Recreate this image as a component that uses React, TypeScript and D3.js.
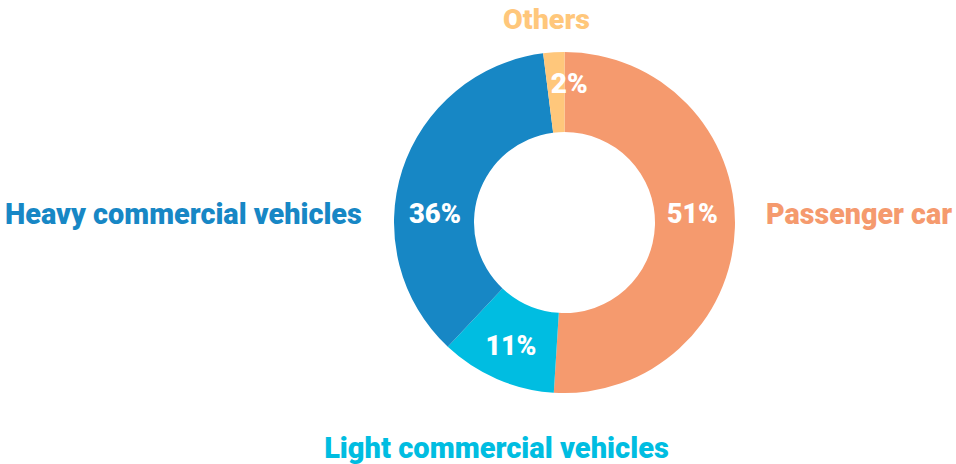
import React, { useLayoutEffect, useRef, useState } from "react";
import * as d3 from "d3";

const categories = ["Passenger car", "Light commercial vehicles", "Heavy commercial vehicles", "Others"];
const values = [51, 11, 36, 2];
const colors = ["#F59A6E", "#00BDE1", "#1787C5", "#FFC77B"];

const W = 956;
const H = 464;
const CX = 564.5;
const CY = 222.5;
const R_OUT = 170.5;
const R_IN = 90.5;
const FONT = "Roboto, 'Noto Sans', sans-serif";

export default function App() {
  const pie = d3.pie<number>().sort(null).value((d) => d)(values);
  const arc = d3.arc<d3.PieArcDatum<number>>().innerRadius(R_IN).outerRadius(R_OUT);
  const labelArc = d3.arc<d3.PieArcDatum<number>>().innerRadius(130).outerRadius(130);

  // percent label placement per slice
  const pctPos = pie.map((p, i) => {
    const [x, y] = labelArc.centroid(p);
    if (i === 0) return [128, 0];
    if (i === 2) return [-129.5, 0];
    if (i === 3) return [x + 13, y];
    return [x - 2, y + 13.5];
  });
  const pctLen = [51, 51, 52, 37];

  // category label anchors (anchor x, baseline y, anchor)
  const catPos: [number, number, string][] = [
    [W - 4, CY + 1.5, "end"],
    [CX - 68, H - 6.5, "middle"],
    [5, CY + 1.5, "start"],
    [CX - 18, 29.3, "middle"],
  ];
  const catSize = [30, 29, 30, 28];
  const catLen = [186, 345, 357, 87];

  const catRefs = useRef<(SVGTextElement | null)[]>([]);
  const pctRefs = useRef<(SVGTextElement | null)[]>([]);
  const [catScale, setCatScale] = useState<number[]>([1, 1, 1, 1]);
  const [pctScale, setPctScale] = useState<number[]>([1, 1, 1, 1]);

  useLayoutEffect(() => {
    const cs = catRefs.current.map((el, i) => {
      const w = el ? el.getComputedTextLength() : 0;
      return w > 0 ? catLen[i] / w : 1;
    });
    const ps = pctRefs.current.map((el, i) => {
      const w = el ? el.getComputedTextLength() : 0;
      return w > 0 ? pctLen[i] / w : 1;
    });
    setCatScale(cs);
    setPctScale(ps);
  }, []);

  return (
    <svg width={W} height={H} style={{ position: "absolute", left: 0, top: 0, background: "#fff" }}>
      <g transform={`translate(${CX},${CY})`}>
        {pie.map((p, i) => (
          <path key={i} d={arc(p) || ""} fill={colors[i]} />
        ))}
        {pie.map((p, i) => (
          <g key={"t" + i} transform={`translate(${pctPos[i][0]},${pctPos[i][1]}) scale(${pctScale[i]},1)`}>
            <text
              ref={(el) => (pctRefs.current[i] = el)}
              fill="#fff"
              fontFamily={FONT}
              fontWeight={900}
              fontSize={27}
              textAnchor="middle"
            >
              {`${values[i]}%`}
            </text>
          </g>
        ))}
      </g>
      {categories.map((c, i) => (
        <g key={"c" + i} transform={`translate(${catPos[i][0]},${catPos[i][1]}) scale(${catScale[i]},1)`}>
          <text
            ref={(el) => (catRefs.current[i] = el)}
            fill={colors[i]}
            fontFamily={FONT}
            fontWeight={900}
            fontSize={catSize[i]}
            textAnchor={catPos[i][2] as any}
          >
            {c}
          </text>
        </g>
      ))}
    </svg>
  );
}
